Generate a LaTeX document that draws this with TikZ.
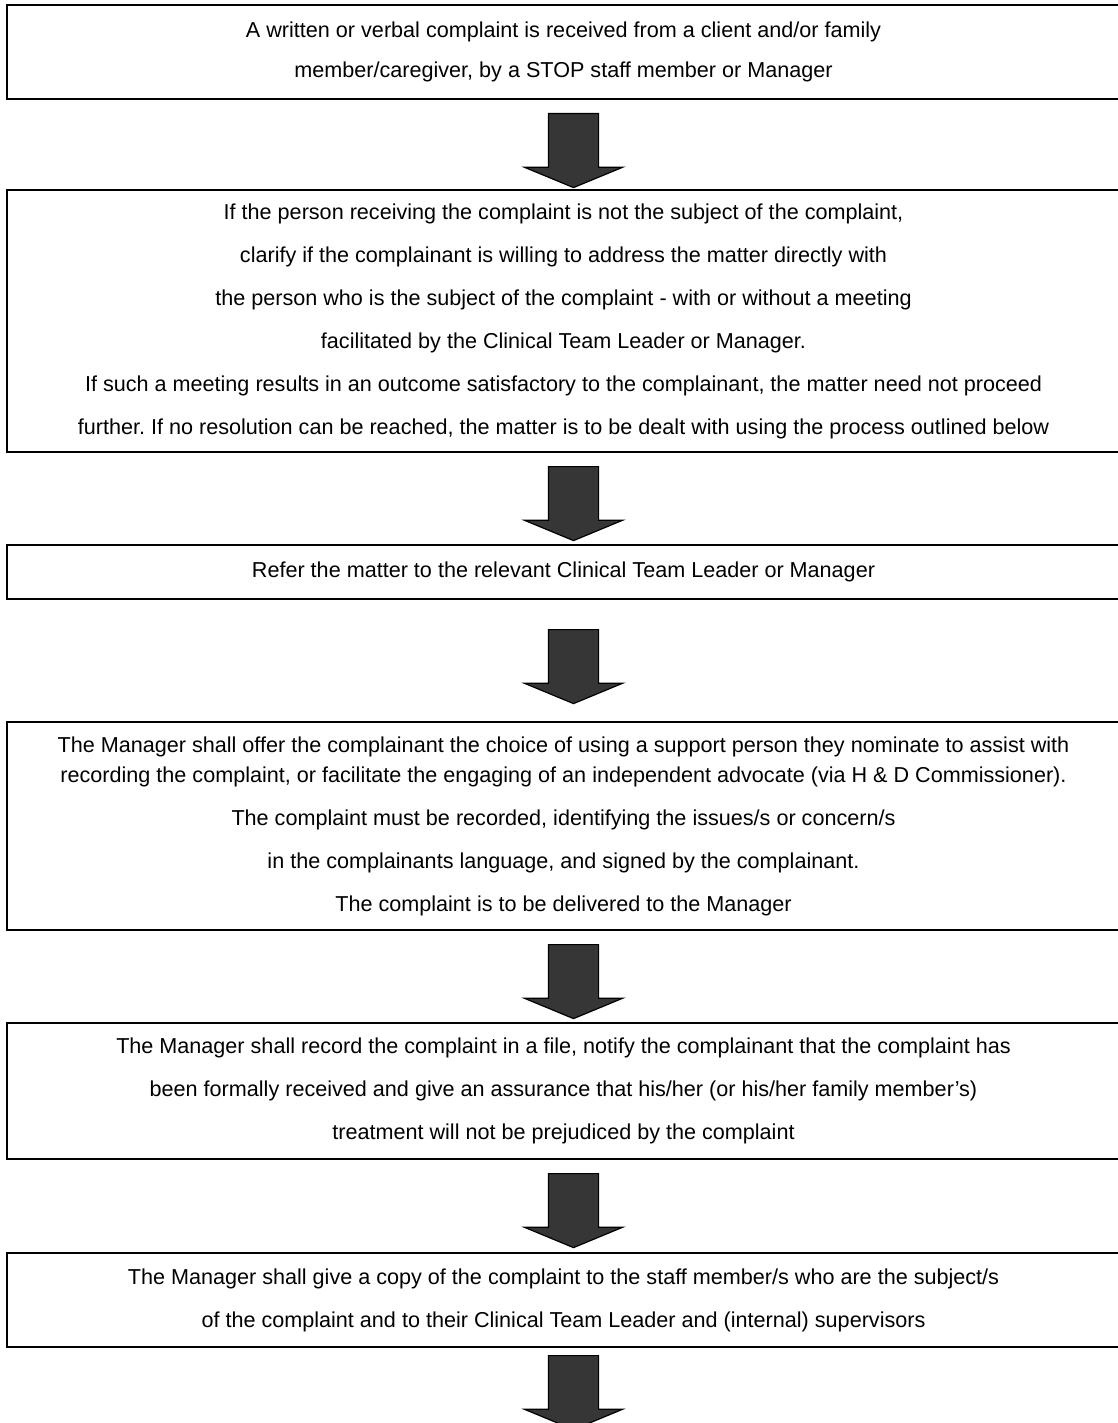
\documentclass[tikz,border=0pt]{standalone}
\usepackage{fontspec}
\setmainfont{Liberation Sans}
\usetikzlibrary{shapes.arrows,positioning}
\definecolor{arrowgray}{HTML}{363636}
\frenchspacing

\begin{document}
\begin{tikzpicture}[x=1pt,y=1pt,node distance=91pt,
		stage/.style={draw,line width=1.8pt,minimum width=1113pt,inner sep=0pt,outer sep=0pt,
			align=center,font=\fontsize{21.6}{43}\selectfont},
		down arrow/.style={single arrow,draw,line width=1.2pt,fill=arrowgray,inner sep=24.5pt,
			shape border rotate=270,minimum height=74pt,minimum width=97pt,
			single arrow head extend=24pt,single arrow tip angle=135,anchor=tail}]
	%\tikzstyle{every node}=[text=black]

	\useasboundingbox (0,0) rectangle (1118,-1423);

	\node[stage,minimum height=94pt,font=\fontsize{21.6}{40}\selectfont] (S1) at (563.5,-52)
		{A written or verbal complaint is received from a client and/or family\\
		member/caregiver, by a STOP staff member or Manager};
	\node[stage,minimum height=262pt] (S2) [below=of S1]
		{If the person receiving the complaint is not the subject of the complaint,\\
		clarify if the complainant is willing to address the matter directly with\\
		the person who is the subject of the complaint - with or without a meeting\\
		facilitated by the Clinical Team Leader or Manager.\\
		If such a meeting results in an outcome satisfactory to the complainant, the matter need not proceed\\
		further. If no resolution can be reached, the matter is to be dealt with using the process outlined below};
	\node[stage,minimum height=54pt] (S3) [below=93pt of S2]
		{Refer the matter to the relevant Clinical Team Leader or Manager};
	\node[stage,minimum height=208pt] (S4) [below=123pt of S3]
		{The Manager shall offer the complainant the choice of using a support person they nominate to assist with\\[-13pt]
		recording the complaint, or facilitate the engaging of an independent advocate (via H \& D Commissioner).\\
		The complaint must be recorded, identifying the issues/s or concern/s\\
		in the complainants language, and signed by the complainant.\\
		The complaint is to be delivered to the Manager};
	\node[stage,minimum height=136pt] (S5) [below=93pt of S4]
		{The Manager shall record the complaint in a file, notify the complainant that the complaint has\\
		been formally received and give an assurance that his/her (or his/her family member’s)\\
		treatment will not be prejudiced by the complaint};
	\node[stage,minimum height=94pt] (S6) [below=94pt of S5]
		{The Manager shall give a copy of the complaint to the staff member/s who are the subject/s\\
		of the complaint and to their Clinical Team Leader and (internal) supervisors};

	\node[down arrow] (D1) at ([xshift=10pt,yshift=-14pt]S1.south) {};
	\node[down arrow] (D2) at ([xshift=10pt,yshift=-14pt]S2.south) {};
	\node[down arrow] (D3) at ([xshift=10pt,yshift=-30pt]S3.south) {};
	\node[down arrow] (D4) at ([xshift=10pt,yshift=-14pt]S4.south) {};
	\node[down arrow] (D5) at ([xshift=10pt,yshift=-14pt]S5.south) {};
	\node[down arrow] (D6) at ([xshift=10pt,yshift=-8pt]S6.south) {};
\end{tikzpicture}
\end{document}
